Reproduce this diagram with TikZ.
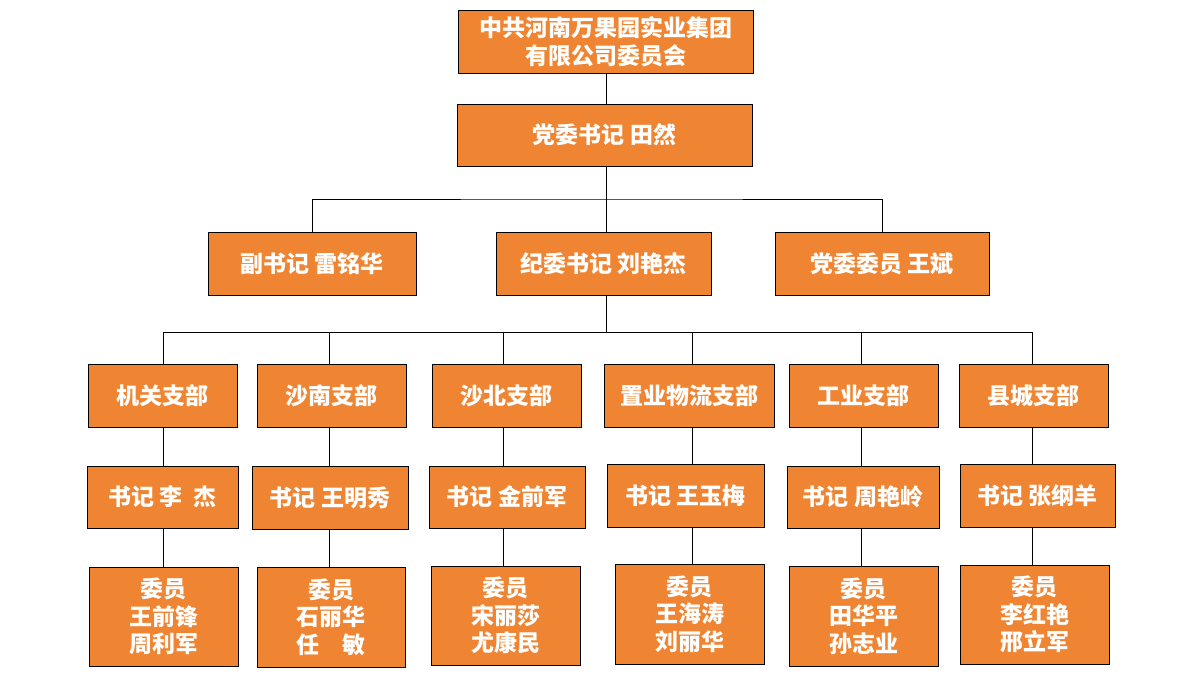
\documentclass[tikz,border=0pt]{standalone}
\usepackage{fontspec}
\newfontfamily\cjk{Noto Sans CJK SC}
\definecolor{boxorange}{HTML}{EF8532}
\tikzset{
  orgbox/.style={draw=black, line width=1pt, fill=boxorange, text=white,
    inner sep=0pt, align=center, font=\cjk\bfseries\fontsize{23}{27.5}\selectfont},
  link/.style={draw=black, line width=1pt}
}
\begin{document}
\begin{tikzpicture}[x=1pt,y=-1pt]
\useasboundingbox (0,0) rectangle (1195,689);
% level 1-2
\node[orgbox, minimum width=295, minimum height=63] (top) at (605.5,41.5) {中共河南万果园实业集团\\有限公司委员会};
\node[orgbox, minimum width=295, minimum height=62] (sec) at (604.5,135) {党委书记 田然};
% level 3
\node[orgbox, minimum width=208, minimum height=63] (fu) at (312,263.5) {副书记 雷铭华};
\node[orgbox, minimum width=215, minimum height=63] (jw) at (603.5,263.5) {纪委书记 刘艳杰};
\node[orgbox, minimum width=214, minimum height=63] (dw) at (882,263.5) {党委委员 王斌};
% level 4
\node[orgbox, minimum width=149, minimum height=63] (jg4) at (162.5,395.5) {机关支部};
\node[orgbox, minimum width=149, minimum height=63] (sn4) at (331.5,395.5) {沙南支部};
\node[orgbox, minimum width=149, minimum height=63] (sb4) at (506.5,395.5) {沙北支部};
\node[orgbox, minimum width=170, minimum height=63] (zy4) at (689,395.5) {置业物流支部};
\node[orgbox, minimum width=149, minimum height=63] (gy4) at (863.5,395.5) {工业支部};
\node[orgbox, minimum width=149, minimum height=63] (xc4) at (1033.5,395.5) {县城支部};
% level 5
\node[orgbox, minimum width=151, minimum height=62] (jg5) at (162.5,497) {书记 李~~杰};
\node[orgbox, minimum width=156, minimum height=63] (sn5) at (330,497.5) {书记 王明秀};
\node[orgbox, minimum width=156, minimum height=62] (sb5) at (507,497) {书记 金前军};
\node[orgbox, minimum width=157, minimum height=63] (zy5) at (685.5,495.5) {书记 王玉梅};
\node[orgbox, minimum width=152, minimum height=62] (gy5) at (863,497) {书记 周艳岭};
\node[orgbox, minimum width=155, minimum height=63] (xc5) at (1037.5,495.5) {书记 张纲羊};
% level 6
\node[orgbox, minimum width=149, minimum height=99] (jg6) at (163.5,616.5) {委员\\王前锋\\周利军};
\node[orgbox, minimum width=148, minimum height=100] (sn6) at (331,617) {委员\\石丽华\\任\hspace{1em}敏};
\node[orgbox, minimum width=149, minimum height=99] (sb6) at (505.5,615.5) {委员\\宋丽莎\\尤康民};
\node[orgbox, minimum width=149, minimum height=100] (zy6) at (689.5,614) {委员\\王海涛\\刘丽华};
\node[orgbox, minimum width=149, minimum height=100] (gy6) at (863.5,616) {委员\\田华平\\孙志业};
\node[orgbox, minimum width=149, minimum height=99] (xc6) at (1034.5,614.5) {委员\\李红艳\\邢立军};
% junctions
\coordinate (spine) at (606,0);
\coordinate (bus1) at (606,199);
\coordinate (bus2) at (606,332);
\coordinate (c1) at (163,332);
\coordinate (c2) at (329,332);
\coordinate (c3) at (503,332);
\coordinate (c4) at (692,332);
\coordinate (c5) at (861,332);
\coordinate (c6) at (1032,332);
% connectors
\draw[link] (top.south -| spine) -- (sec.north -| spine);
\draw[link] (sec.south -| spine) -- (bus1);
\draw[link] (fu.north) |- (bus1) -| (dw.north);
\draw[link] (bus1) -- (jw.north -| bus1);
\draw[link] (jw.south -| bus2) -- (bus2);
\draw[link] (c1) -- (c6);
\foreach \c/\n in {c1/jg, c2/sn, c3/sb, c4/zy, c5/gy, c6/xc}{
  \draw[link] (\c) -- (\n4.north -| \c);
  \draw[link] (\n4.south -| \c) -- (\n5.north -| \c);
  \draw[link] (\n5.south -| \c) -- (\n6.north -| \c);
}
\end{tikzpicture}
\end{document}
